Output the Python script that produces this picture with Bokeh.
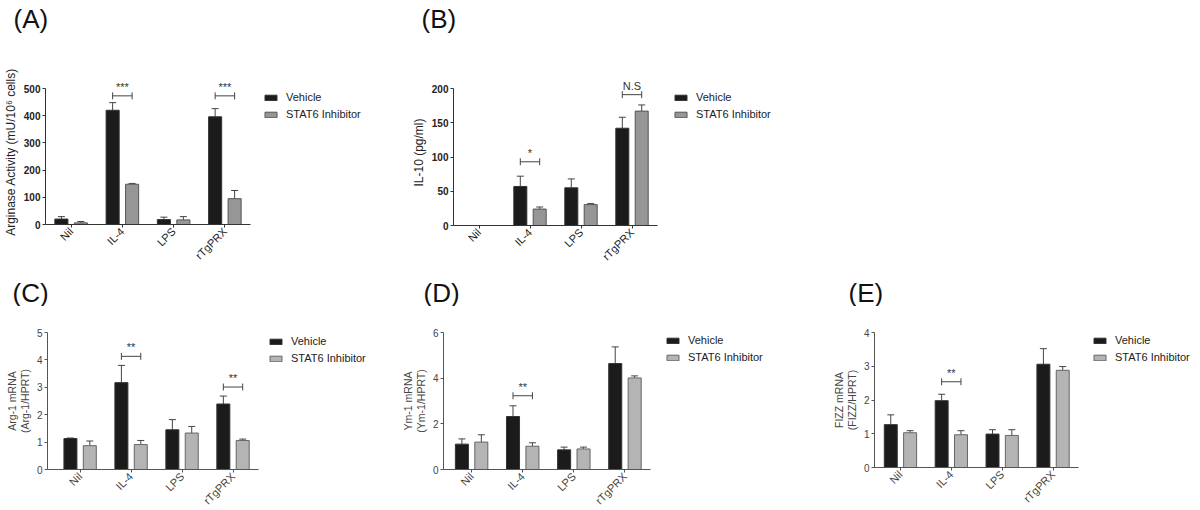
import math
from bokeh.plotting import figure
from bokeh.models import (ColumnDataSource, Whisker, TeeHead, LabelSet, Label,
                          Legend, LegendItem, FixedTicker)
from bokeh.core.properties import value
from bokeh.transform import dodge
from bokeh.layouts import column, row
from bokeh.embed import file_html
from bokeh.resources import INLINE

FONT = "Liberation Sans"

categories = ["Nil", "IL-4", "LPS", "rTgPRX"]
series_names = ["Vehicle", "STAT6 Inhibitor"]
panel_titles_top = ["(A)", "(B)"]
panel_titles_bottom = ["(C)", "(D)", "(E)"]

# (A) Arginase activity
arg_vehicle = [20, 420, 18, 396]
arg_vehicle_err = [9, 28, 9, 30]
arg_inhibitor = [6, 148, 17, 95]
arg_inhibitor_err = [5, 3, 12, 30]
arg_sig_groups = ["IL-4", "rTgPRX"]
arg_sig_heights = [473, 473]
arg_sig_marks = ["***", "***"]

# (B) IL-10
il10_vehicle = [0, 57, 55, 142]
il10_vehicle_err = [0, 15, 13, 16]
il10_inhibitor = [0, 24, 30.5, 167]
il10_inhibitor_err = [0, 3, 1.5, 9]
il10_sig_groups = ["IL-4", "rTgPRX"]
il10_sig_heights = [93, 191]
il10_sig_marks = ["*", "N.S"]

# (C) Arg-1 mRNA
arg1_vehicle = [1.13, 3.17, 1.45, 2.39]
arg1_vehicle_err = [0.02, 0.63, 0.37, 0.29]
arg1_inhibitor = [0.87, 0.91, 1.33, 1.06]
arg1_inhibitor_err = [0.17, 0.15, 0.24, 0.05]
arg1_sig_groups = ["IL-4", "rTgPRX"]
arg1_sig_heights = [4.13, 3.01]
arg1_sig_marks = ["**", "**"]

# (D) Ym-1 mRNA
ym1_vehicle = [1.11, 2.32, 0.86, 4.64]
ym1_vehicle_err = [0.23, 0.47, 0.12, 0.73]
ym1_inhibitor = [1.2, 1.02, 0.9, 4.01]
ym1_inhibitor_err = [0.32, 0.15, 0.08, 0.09]
ym1_sig_groups = ["IL-4"]
ym1_sig_heights = [3.23]
ym1_sig_marks = ["**"]

# (E) FIZZ mRNA
fizz_vehicle = [1.27, 1.98, 0.99, 3.06]
fizz_vehicle_err = [0.29, 0.19, 0.13, 0.46]
fizz_inhibitor = [1.03, 0.97, 0.95, 2.88]
fizz_inhibitor_err = [0.06, 0.12, 0.17, 0.11]
fizz_sig_groups = ["IL-4"]
fizz_sig_heights = [2.54]
fizz_sig_marks = ["**"]

OFF = 0.19
BAR_W = 0.255
X_END = 3.5
TOTAL_W = 1192


def title_strip(titles, xs, height, top_from_bottom):
    p = figure(width=TOTAL_W, height=height, x_range=(0, TOTAL_W), y_range=(0, height),
               output_backend="svg", toolbar_location=None,
               x_axis_type=None, y_axis_type=None, min_border=0)
    p.outline_line_color = None
    p.xgrid.grid_line_color = None
    p.ygrid.grid_line_color = None
    for t, x in zip(titles, xs):
        p.add_layout(Label(x=x, y=top_from_bottom, x_units="screen", y_units="screen",
                           text=t, text_font=FONT, text_font_size="26px",
                           text_color="#111111", text_baseline="top",
                           text_align="left"))
    return p


def panel(ylabel, veh, veh_err, inh, inh_err, ymax, ystep,
          sig_groups, sig_heights, sig_marks, *, x_start, axis_w, axis_h,
          extra_right, extra_top, borders, inh_fill, inh_line, bold,
          axis_color, text_color, legend_loc):
    left, top, bottom = borders
    px_per_unit_x = axis_w / (X_END - x_start)
    frame_w = axis_w + extra_right
    frame_h = axis_h + extra_top
    x_end = x_start + frame_w / px_per_unit_x
    y_end = ymax * frame_h / axis_h
    p = figure(frame_width=frame_w, frame_height=frame_h,
               x_range=(x_start, x_end), y_range=(0, y_end),
               output_backend="svg", toolbar_location=None,
               min_border_left=left, min_border_right=0,
               min_border_top=top, min_border_bottom=bottom)
    p.outline_line_color = None
    p.xgrid.grid_line_color = None
    p.ygrid.grid_line_color = None
    p.background_fill_color = "white"
    p.border_fill_color = "white"

    idx = list(range(len(categories)))
    src = ColumnDataSource(dict(idx=idx, cat=categories, veh=veh, inh=inh))
    r_veh = p.vbar(x=dodge("idx", -OFF), top="veh", width=BAR_W, source=src,
                   fill_color="#1b1b1b", line_color="#333333", line_width=1)
    r_inh = p.vbar(x=dodge("idx", OFF), top="inh", width=BAR_W, source=src,
                   fill_color=inh_fill, line_color=inh_line, line_width=1)

    for vals, errs, off in ((veh, veh_err, -OFF), (inh, inh_err, OFF)):
        keep = [i for i in idx if errs[i] > 0]
        wsrc = ColumnDataSource(dict(idx=keep,
                                     lo=[vals[i] for i in keep],
                                     hi=[vals[i] + errs[i] for i in keep]))
        p.add_layout(Whisker(base=dodge("idx", off), lower="lo", upper="hi",
                             source=wsrc, dimension="height",
                             line_color="#444444", line_width=1,
                             upper_head=TeeHead(size=7, line_color="#444444", line_width=1),
                             lower_head=None))

    ssrc = ColumnDataSource(dict(idx=[categories.index(g) for g in sig_groups],
                                 h=sig_heights, mark=sig_marks))
    p.add_layout(Whisker(base="h", lower=dodge("idx", -OFF), upper=dodge("idx", OFF),
                         source=ssrc, dimension="width",
                         line_color="#444444", line_width=1,
                         upper_head=TeeHead(size=7, line_color="#444444", line_width=1),
                         lower_head=TeeHead(size=7, line_color="#444444", line_width=1)))
    p.add_layout(LabelSet(x="idx", y="h", text="mark", source=ssrc, y_offset=3,
                          text_align="center", text_baseline="bottom",
                          text_font=value(FONT), text_font_size=value("11px"),
                          text_color="#333333"))

    # axes
    p.yaxis.ticker = FixedTicker(ticks=[ystep * k for k in range(int(round(ymax / ystep)) + 1)])
    p.yaxis.bounds = (0, ymax)
    p.xaxis.bounds = (x_start, X_END)
    p.xaxis.ticker = FixedTicker(ticks=idx)
    p.xaxis.major_label_overrides = {i: c for i, c in zip(idx, categories)}
    p.xaxis.major_label_orientation = math.pi / 4
    for ax in (p.xaxis, p.yaxis):
        ax.axis_line_color = axis_color
        ax.major_tick_line_color = axis_color
        ax.minor_tick_line_color = None
        ax.major_tick_in = 0
        ax.major_tick_out = 3
        ax.major_label_text_font = FONT
        ax.major_label_text_color = text_color
        ax.major_label_standoff = 2
    p.xaxis.major_label_text_font_size = "11px"
    p.xaxis.major_label_standoff = 2
    p.yaxis.major_label_text_font_size = "10px"
    p.yaxis.major_label_text_font_style = "bold" if bold else "normal"
    p.yaxis.axis_label = ylabel
    p.yaxis.axis_label_text_font = FONT
    p.yaxis.axis_label_text_font_size = "12px" if bold else "10.5px"
    p.yaxis.axis_label_text_font_style = "normal"
    p.yaxis.axis_label_text_color = text_color
    p.yaxis.axis_label_text_line_height = 1.05
    p.yaxis.axis_label_standoff = 3

    legend = Legend(items=[LegendItem(label=series_names[0], renderers=[r_veh]),
                           LegendItem(label=series_names[1], renderers=[r_inh])],
                    location=legend_loc, orientation="vertical",
                    glyph_width=15, glyph_height=7, label_height=14,
                    spacing=3, padding=0, margin=0, label_standoff=8,
                    border_line_color=None, background_fill_alpha=0,
                    label_text_font=FONT, label_text_font_size="11px",
                    label_text_color="#222222")
    p.add_layout(legend)
    return p


t1 = title_strip(panel_titles_top, [13, 421], 36, 33)

pA = panel("Arginase Activity (mU/10\u2076 cells)",
           arg_vehicle, arg_vehicle_err, arg_inhibitor, arg_inhibitor_err, 500, 100,
           arg_sig_groups, arg_sig_heights, arg_sig_marks,
           x_start=-0.5, axis_w=205, axis_h=136, extra_right=158, extra_top=9,
           borders=(42, 43, 52),
           inh_fill="#969696", inh_line="#555555", bold=True,
           axis_color="#333333", text_color="#222222",
           legend_loc=(218, 103))

pB = panel("IL-10 (pg/ml)",
           il10_vehicle, il10_vehicle_err, il10_inhibitor, il10_inhibitor_err, 200, 50,
           il10_sig_groups, il10_sig_heights, il10_sig_marks,
           x_start=-0.5, axis_w=204, axis_h=137, extra_right=150, extra_top=9,
           borders=(41, 42, 52),
           inh_fill="#969696", inh_line="#555555", bold=True,
           axis_color="#333333", text_color="#222222",
           legend_loc=(220, 104))

t2 = title_strip(panel_titles_bottom, [12, 423, 848], 30, 29)

pC = panel("Arg-1 mRNA\n(Arg-1/HPRT)",
           arg1_vehicle, arg1_vehicle_err, arg1_inhibitor, arg1_inhibitor_err, 5, 1,
           arg1_sig_groups, arg1_sig_heights, arg1_sig_marks,
           x_start=-0.64, axis_w=211, axis_h=137, extra_right=139, extra_top=0,
           borders=(47, 26, 39),
           inh_fill="#b4b4b4", inh_line="#666666", bold=False,
           axis_color="#555555", text_color="#444444",
           legend_loc=(221, 104))

pD = panel("Ym-1 mRNA\n(Ym-1/HPRT)",
           ym1_vehicle, ym1_vehicle_err, ym1_inhibitor, ym1_inhibitor_err, 6, 2,
           ym1_sig_groups, ym1_sig_heights, ym1_sig_marks,
           x_start=-0.55, axis_w=207, axis_h=137, extra_right=178, extra_top=0,
           borders=(46, 24, 41),
           inh_fill="#b4b4b4", inh_line="#666666", bold=False,
           axis_color="#555555", text_color="#444444",
           legend_loc=(222, 105))

pE = panel("FIZZ mRNA\n(FIZZ/HPRT)",
           fizz_vehicle, fizz_vehicle_err, fizz_inhibitor, fizz_inhibitor_err, 4, 1,
           fizz_sig_groups, fizz_sig_heights, fizz_sig_marks,
           x_start=-0.51, axis_w=204, axis_h=135, extra_right=118, extra_top=0,
           borders=(46, 24, 43),
           inh_fill="#b4b4b4", inh_line="#666666", bold=False,
           axis_color="#555555", text_color="#444444",
           legend_loc=(218, 103))

layout = column(t1, row(pA, pB), t2, row(pC, pD, pE))
open("out.html", "w").write(file_html(layout, INLINE))
